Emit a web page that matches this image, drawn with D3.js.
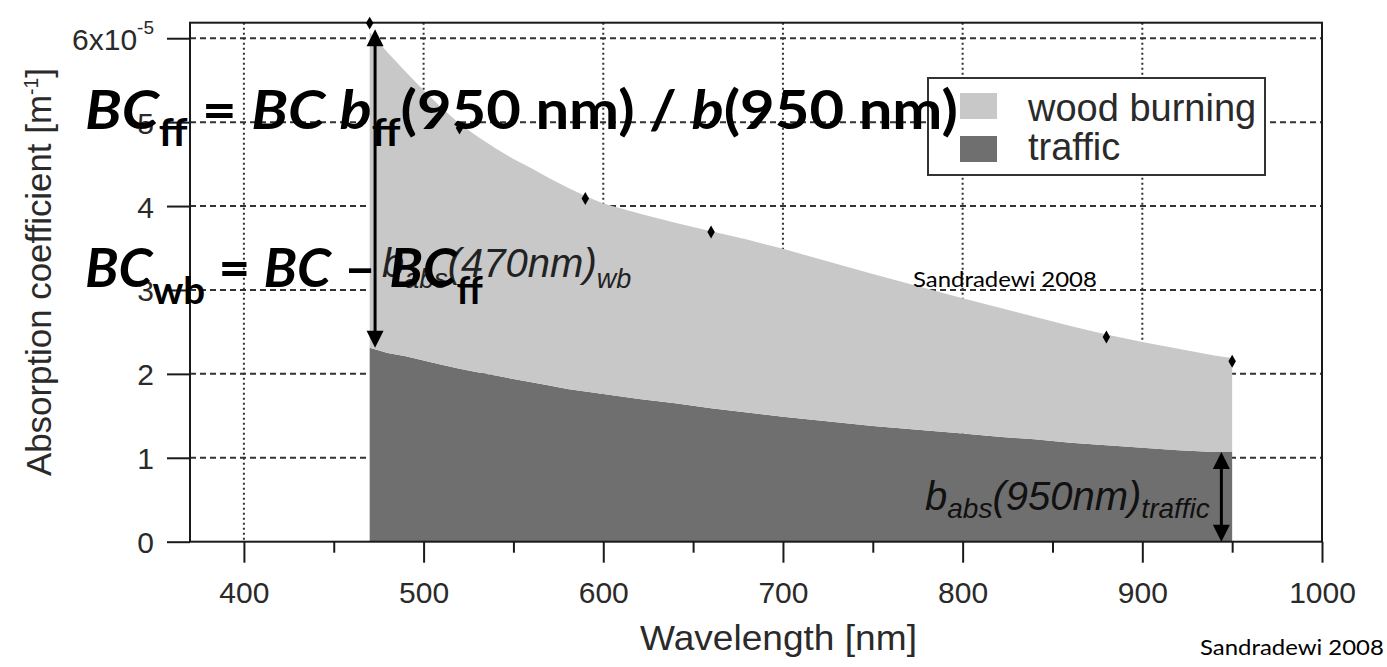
<!DOCTYPE html>
<html>
<head>
<meta charset="utf-8">
<script src="https://cdn.jsdelivr.net/npm/d3@7"></script>
<style>
  html, body { margin: 0; padding: 0; background: #fff; }
  svg { display: block; }
</style>
</head>
<body>
<svg id="chart" width="1387" height="667"></svg>
<script>
// Absorption coefficients are given in units of 1e-5 m^-1.
const wavelengths = [470, 480, 490, 500, 510, 520, 530, 540, 550, 560, 570, 580, 590, 600,
  620, 640, 660, 680, 700, 750, 800, 820, 840, 860, 880, 900, 920, 940, 950];
const trafficAbs = [2.31, 2.25, 2.21, 2.16, 2.11, 2.06, 2.02, 1.98, 1.94, 1.90, 1.86, 1.82, 1.79, 1.76,
  1.70, 1.65, 1.59, 1.54, 1.49, 1.38, 1.29, 1.25, 1.22, 1.18, 1.15, 1.12, 1.09, 1.07, 1.07];
const woodBurningAbs = [3.76, 3.58, 3.39, 3.22, 3.06, 2.92, 2.81, 2.71, 2.62, 2.55, 2.47, 2.40, 2.33, 2.27,
  2.21, 2.15, 2.11, 2.06, 2.00, 1.81, 1.61, 1.54, 1.46, 1.39, 1.32, 1.26, 1.21, 1.15, 1.12];
// Aethalometer channels (measured points)
const measuredWavelengths = [470, 520, 590, 660, 880, 950];
const measuredAbs = [6.18, 4.93, 4.09, 3.69, 2.44, 2.15];

const xTicks = [400, 500, 600, 700, 800, 900, 1000];
const xMinorTicks = [450, 550, 650, 750, 850, 950];
const xGridTicks = [400, 500, 600, 700, 800, 900];
const yTicks = [0, 1, 2, 3, 4, 5, 6];
const yTickLabels = ["0", "1", "2", "3", "4", "5", "6x10"];
const yGridTicks = [1, 2, 3, 4, 5, 6];
const legendLabels = ["wood burning", "traffic"];
const xTitle = "Wavelength [nm]";
const yTitle = "Absorption coefficient [m";
const sourceNote = "Sandradewi 2008";

const COLOR_WOOD = "#c8c8c8";
const COLOR_TRAFFIC = "#6f6f6f";
const INK = "#1a1a1a";
const AXIS_INK = "#2a2a2a";
const FONT_AXIS = "'Liberation Sans', Arial, sans-serif";
const FONT_NOTE = "Lato, 'Open Sans', sans-serif";

const L = 190, R = 1322, T = 22.7, B = 541.7;
const svg = d3.select("#chart");

const x = d3.scaleLinear().domain([370, 1000]).range([L, R]);
const y = d3.scaleLinear().domain([0, 6.185]).range([B, T]);

// stretch a text node horizontally so its box spans [left, right]
function fitSpan(node, left, right) {
  const bb = node.getBBox();
  const s = (right - left) / bb.width;
  d3.select(node).attr("transform", `translate(${left},0) scale(${s},1) translate(${-bb.x},0)`);
}

// text built from parts: {t, it: italic, sub: subscript}
function richText(g, x0, y0, parts, opt) {
  const t = g.append("text")
    .attr("x", x0).attr("y", y0)
    .attr("font-family", opt.family)
    .attr("font-weight", opt.weight || "normal")
    .attr("font-size", opt.size)
    .attr("fill", opt.fill || INK);
  let shifted = false;
  parts.forEach(p => {
    const sub = !!p.sub;
    let dy = 0;
    if (sub && !shifted) dy = opt.subShift;
    if (!sub && shifted) dy = -opt.subShift;
    shifted = sub;
    t.append("tspan")
      .attr("dy", dy)
      .attr("font-style", p.it ? "italic" : "normal")
      .attr("font-size", sub ? opt.subSize : opt.size)
      .text(p.t);
  });
  return t;
}

// ---- grid ----
const grid = svg.append("g");
grid.selectAll("line.h").data(yGridTicks).join("line")
  .attr("x1", L).attr("x2", R)
  .attr("y1", d => y(d)).attr("y2", d => y(d))
  .attr("stroke", "#333").attr("stroke-width", 2).attr("stroke-dasharray", "6,4");
grid.selectAll("line.v").data(xGridTicks).join("line")
  .attr("x1", d => x(d)).attr("x2", d => x(d))
  .attr("y1", T).attr("y2", B)
  .attr("stroke", "#333").attr("stroke-width", 2).attr("stroke-dasharray", "2,3");

// ---- stacked areas ----
const rows = wavelengths.map((w, i) => ({ wl: w, traffic: trafficAbs[i], wood: woodBurningAbs[i] }));
const series = d3.stack().keys(["traffic", "wood"])(rows);
const area = d3.area()
  .x(d => x(d.data.wl))
  .y0(d => y(d[0]))
  .y1(d => y(d[1]));
svg.append("g").selectAll("path").data(series).join("path")
  .attr("d", area)
  .attr("fill", d => d.key === "wood" ? COLOR_WOOD : COLOR_TRAFFIC);

// ---- axes ----
const xAxis = svg.append("g").attr("transform", `translate(0,${B})`)
  .call(d3.axisBottom(x).tickValues(xTicks).tickSize(21).tickSizeOuter(0).tickFormat(d3.format("d")));
xAxis.select(".domain").remove();
xAxis.selectAll(".tick line").attr("stroke", INK).attr("stroke-width", 2);
xAxis.selectAll(".tick text")
  .attr("y", 61).attr("dy", 0)
  .attr("font-family", FONT_AXIS).attr("font-size", 30).attr("fill", AXIS_INK);

const xMinor = svg.append("g").attr("transform", `translate(0,${B})`)
  .call(d3.axisBottom(x).tickValues(xMinorTicks).tickSize(11).tickSizeOuter(0).tickFormat(""));
xMinor.select(".domain").remove();
xMinor.selectAll(".tick line").attr("stroke", INK).attr("stroke-width", 2);

const yAxis = svg.append("g").attr("transform", `translate(${L},0)`)
  .call(d3.axisLeft(y).tickValues(yTicks).tickSize(23).tickSizeOuter(0)
    .tickFormat((d, i) => yTickLabels[i]));
yAxis.select(".domain").remove();
yAxis.selectAll(".tick line").attr("stroke", INK).attr("stroke-width", 2);
yAxis.selectAll(".tick text")
  .attr("x", -36).attr("dy", 0).attr("y", 11)
  .attr("font-family", FONT_AXIS).attr("font-size", 30).attr("fill", AXIS_INK);
yAxis.selectAll(".tick text").filter(d => d === 6)
  .append("tspan").attr("dy", -16).attr("font-size", 19).text("-5");

// plot frame
svg.append("rect")
  .attr("x", L).attr("y", T).attr("width", R - L).attr("height", B - T)
  .attr("fill", "none").attr("stroke", INK).attr("stroke-width", 2);

// axis titles
const xt = svg.append("text")
  .attr("x", 0).attr("y", 650)
  .attr("font-family", FONT_AXIS).attr("font-size", 36).attr("fill", AXIS_INK)
  .text(xTitle);
fitSpan(xt.node(), 640, 917);

const yg = svg.append("g").attr("transform", "translate(51,272) rotate(-90)");
const yt = yg.append("text")
  .attr("x", 0).attr("y", 0)
  .attr("font-family", FONT_AXIS).attr("font-size", 36).attr("fill", AXIS_INK);
yt.append("tspan").text(yTitle);
yt.append("tspan").attr("dy", -13).attr("font-size", 20).text("-1");
yt.append("tspan").attr("dy", 13).text("]");
fitSpan(yt.node(), -204, 204);

// ---- measured points ----
svg.append("g").selectAll("path").data(measuredWavelengths).join("path")
  .attr("transform", (d, i) => `translate(${x(d)},${y(measuredAbs[i])})`)
  .attr("d", d3.symbol(d3.symbolDiamond, 48))
  .attr("fill", "#000");

// ---- double-headed arrows ----
function doubleArrow(px, yTop, yBot) {
  const g = svg.append("g");
  g.append("line").attr("x1", px).attr("x2", px)
    .attr("y1", yTop + 10).attr("y2", yBot - 10)
    .attr("stroke", "#000").attr("stroke-width", 3);
  g.append("path").attr("d", `M${px},${yTop} L${px - 8.5},${yTop + 17} L${px + 8.5},${yTop + 17} Z`).attr("fill", "#000");
  g.append("path").attr("d", `M${px},${yBot} L${px - 8.5},${yBot - 17} L${px + 8.5},${yBot - 17} Z`).attr("fill", "#000");
}
const n = wavelengths.length - 1;
doubleArrow(x(473), y(trafficAbs[0] + woodBurningAbs[0]) - 3, y(trafficAbs[0]));
doubleArrow(x(944), y(trafficAbs[n]), y(0));

// ---- annotations ----
const notes = svg.append("g");
richText(notes, 382, 277, [
  { t: "b", it: 1 }, { t: "abs", it: 1, sub: 1 }, { t: "(470nm)", it: 1 }, { t: "wb", it: 1, sub: 1 }
], { family: FONT_AXIS, size: 40, subSize: 27, subShift: 11, fill: "#222" });
richText(notes, 925, 510, [
  { t: "b", it: 1 }, { t: "abs", it: 1, sub: 1 }, { t: "(950nm)", it: 1 }, { t: "traffic", it: 1, sub: 1 }
], { family: FONT_AXIS, size: 40, subSize: 28, subShift: 8, fill: "#111" });

// ---- legend ----
const lg = svg.append("g");
lg.append("rect").attr("x", 928).attr("y", 78).attr("width", 337).attr("height", 97)
  .attr("fill", "#fff").attr("stroke", "#333").attr("stroke-width", 2);
lg.selectAll("rect.sw").data(legendLabels).join("rect")
  .attr("x", 960).attr("y", (d, i) => 93 + i * 43).attr("width", 37).attr("height", 26)
  .attr("fill", (d, i) => i === 0 ? COLOR_WOOD : COLOR_TRAFFIC);
lg.selectAll("text").data(legendLabels).join("text")
  .attr("x", 1028).attr("y", (d, i) => 121 + i * 39)
  .attr("font-family", FONT_AXIS).attr("font-size", 38).attr("fill", AXIS_INK)
  .text(d => d);

// ---- source notes ----
const s1 = svg.append("text").attr("x", 0).attr("y", 287)
  .attr("font-family", FONT_NOTE).attr("font-size", 22).attr("fill", "#000").text(sourceNote);
fitSpan(s1.node(), 913, 1097);
const s2 = svg.append("text").attr("x", 0).attr("y", 655)
  .attr("font-family", FONT_NOTE).attr("font-size", 22).attr("fill", "#000").text(sourceNote);
fitSpan(s2.node(), 1200, 1384);

// ---- formulas ----
const fm = svg.append("g");
const f1 = richText(fm, 0, 129, [
  { t: "BC", it: 1 }, { t: "ff", sub: 1 }, { t: " = " }, { t: "BC", it: 1 }, { t: " " },
  { t: "b", it: 1 }, { t: "ff", sub: 1 }, { t: "(950 nm) / " }, { t: "b", it: 1 }, { t: "(950 nm)" }
], { family: FONT_NOTE, weight: "bold", size: 54, subSize: 38, subShift: 17, fill: "#000" });
fitSpan(f1.node(), 85, 958);
const f2 = richText(fm, 0, 287, [
  { t: "BC", it: 1 }, { t: "wb", sub: 1 }, { t: " = " }, { t: "BC", it: 1 }, { t: " \u2013 " },
  { t: "BC", it: 1 }, { t: "ff", sub: 1 }
], { family: FONT_NOTE, weight: "bold", size: 54, subSize: 38, subShift: 17, fill: "#000" });
fitSpan(f2.node(), 85, 483);
</script>
</body>
</html>
